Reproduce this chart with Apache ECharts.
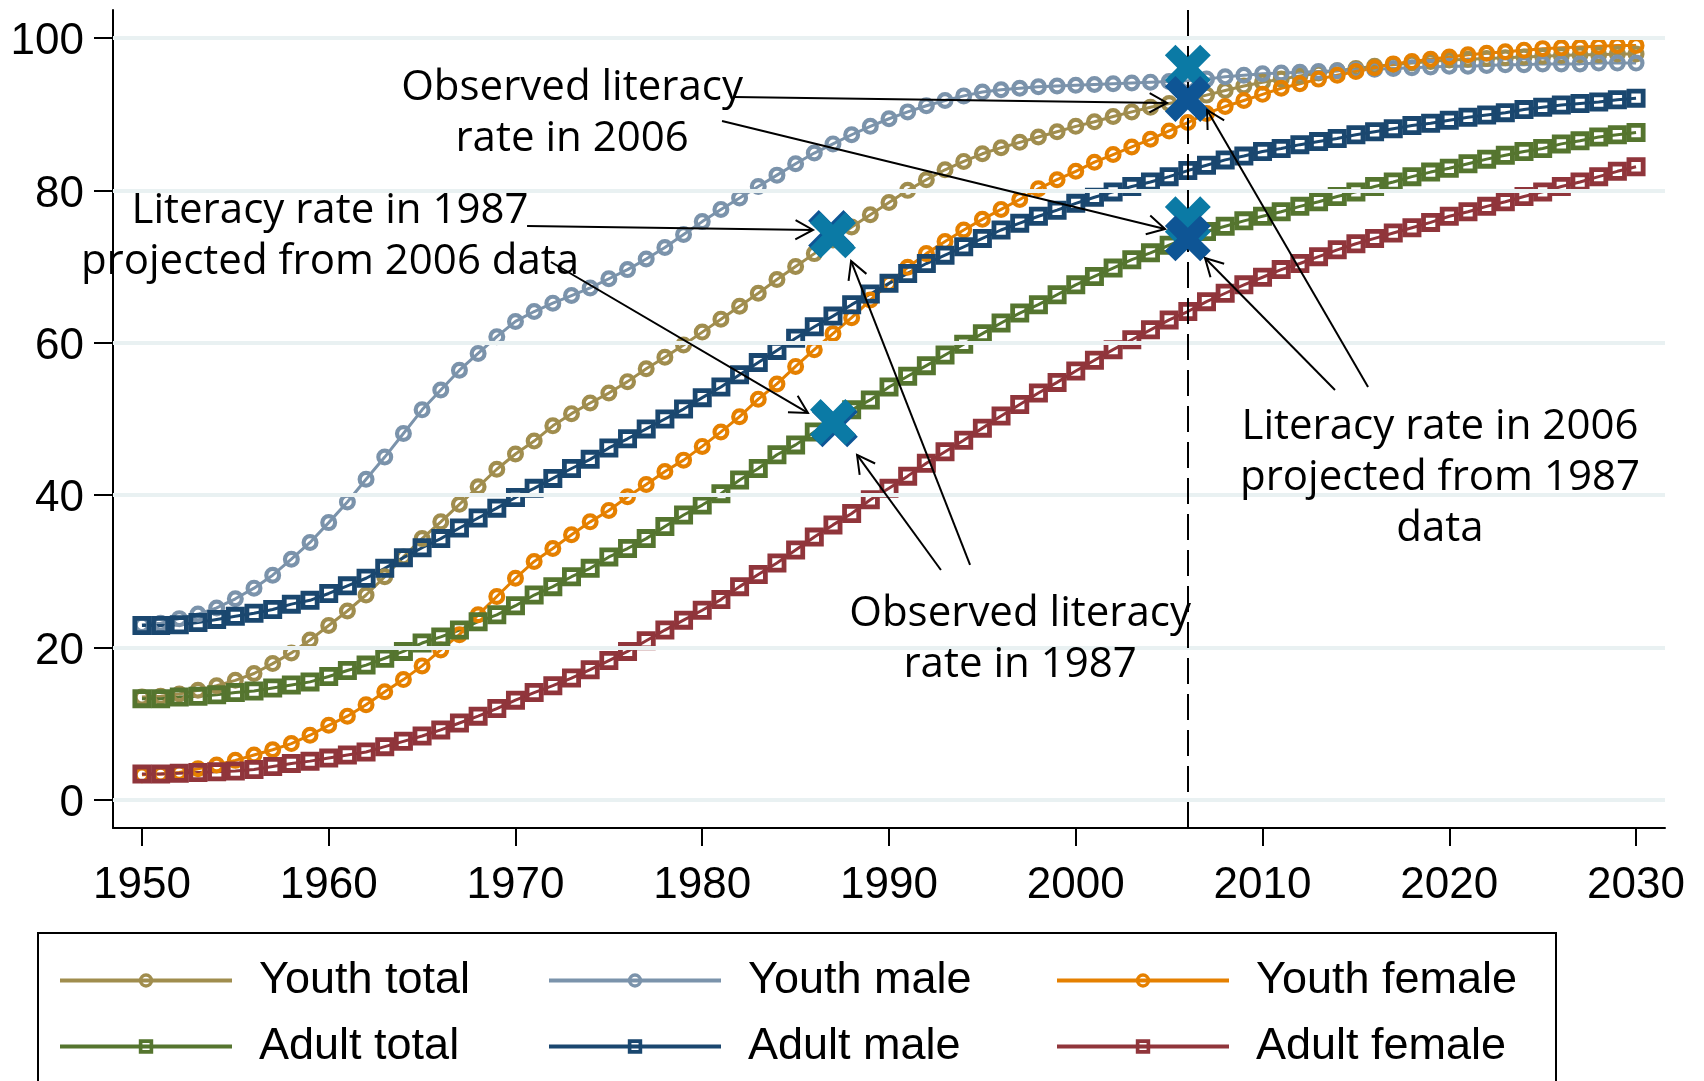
<!DOCTYPE html>
<html>
<head>
<meta charset="utf-8">
<script src="https://cdn.jsdelivr.net/npm/echarts@6/dist/echarts.min.js"></script>
<style>
  html,body{margin:0;padding:0;background:#fff;}
  #main{width:1704px;height:1081px;}
</style>
</head>
<body>
<div id="main"></div>
<script>
  // years on the x axis
  var years=[1950,1951,1952,1953,1954,1955,1956,1957,1958,1959,
    1960,1961,1962,1963,1964,1965,1966,1967,1968,1969,
    1970,1971,1972,1973,1974,1975,1976,1977,1978,1979,
    1980,1981,1982,1983,1984,1985,1986,1987,1988,1989,
    1990,1991,1992,1993,1994,1995,1996,1997,1998,1999,
    2000,2001,2002,2003,2004,2005,2006,2007,2008,2009,
    2010,2011,2012,2013,2014,2015,2016,2017,2018,2019,
    2020,2021,2022,2023,2024,2025,2026,2027,2028,2029,2030];

  var youthTotal=[13.5,13.6,13.9,14.4,15.0,15.7,16.6,17.9,19.3,21.0,
    22.9,24.8,26.9,29.3,31.9,34.3,36.5,38.8,41.1,43.4,
    45.4,47.1,49.1,50.7,52.1,53.4,54.9,56.6,58.1,59.7,
    61.4,63.1,64.8,66.5,68.3,70.0,71.7,73.5,75.2,76.8,
    78.4,80.0,81.4,82.7,83.8,84.8,85.6,86.3,87.0,87.7,
    88.4,89.0,89.7,90.3,90.9,91.4,91.9,92.5,93.1,93.7,
    94.2,94.6,95.0,95.4,95.7,96.0,96.3,96.5,96.7,96.9,
    97.1,97.2,97.3,97.4,97.5,97.6,97.7,97.8,97.8,97.9,97.9];

  var youthMale=[23.0,23.2,23.8,24.4,25.2,26.4,27.8,29.5,31.6,33.8,
    36.4,39.1,42.1,45.0,48.1,51.2,53.8,56.4,58.6,60.8,
    62.8,64.1,65.2,66.2,67.2,68.4,69.6,71.0,72.5,74.2,
    75.9,77.5,79.0,80.5,82.0,83.5,84.9,86.1,87.3,88.4,
    89.4,90.3,91.1,91.8,92.4,92.9,93.2,93.4,93.6,93.7,
    93.8,93.9,94.0,94.1,94.2,94.3,94.4,94.6,94.9,95.1,
    95.3,95.4,95.5,95.6,95.7,95.8,95.9,96.0,96.1,96.2,
    96.3,96.3,96.4,96.5,96.5,96.6,96.6,96.6,96.7,96.7,96.7];

  var youthFemale=[3.3,3.4,3.6,4.1,4.6,5.2,5.9,6.6,7.4,8.5,
    9.8,11.0,12.5,14.2,15.8,17.6,19.7,21.7,24.3,26.7,
    29.1,31.3,33.0,34.8,36.5,38.0,39.8,41.4,43.1,44.6,
    46.4,48.3,50.3,52.6,54.6,56.9,59.1,61.2,63.3,65.6,
    67.8,69.9,71.7,73.3,74.8,76.2,77.5,78.8,80.2,81.4,
    82.5,83.7,84.7,85.7,86.7,87.8,88.9,90.1,91.0,91.8,
    92.6,93.4,94.0,94.6,95.1,95.6,96.1,96.6,96.9,97.2,
    97.5,97.8,98.0,98.2,98.4,98.6,98.7,98.8,98.9,99.0,99.0];

  var adultTotal=[13.3,13.3,13.5,13.6,13.8,14.1,14.3,14.7,15.1,15.5,
    16.2,17.0,17.7,18.6,19.5,20.6,21.4,22.3,23.4,24.3,
    25.5,26.9,28.0,29.3,30.4,31.9,33.0,34.3,35.9,37.4,
    38.7,40.2,42.0,43.5,45.3,46.6,48.3,49.6,51.2,52.5,
    54.2,55.6,57.0,58.4,59.8,61.2,62.6,63.9,65.0,66.3,
    67.6,68.7,69.8,70.9,71.8,72.8,73.8,74.6,75.3,76.0,
    76.6,77.2,77.9,78.5,79.2,79.8,80.5,81.1,81.8,82.4,
    82.9,83.5,84.1,84.6,85.1,85.5,86.1,86.5,87.0,87.3,87.6];

  var adultMale=[22.9,22.9,23.0,23.3,23.7,24.1,24.5,25.0,25.7,26.2,
    27.1,28.1,29.1,30.4,31.8,33.1,34.3,35.7,37.0,38.3,
    39.7,40.9,42.2,43.5,44.7,46.2,47.4,48.7,50.0,51.3,
    52.8,54.2,55.8,57.4,59.0,60.6,62.1,63.5,65.0,66.4,
    67.8,69.1,70.4,71.5,72.6,73.7,74.8,75.7,76.6,77.4,
    78.3,79.1,79.8,80.5,81.1,81.8,82.6,83.3,84.0,84.5,
    85.1,85.5,86.0,86.4,86.8,87.3,87.7,88.1,88.5,88.8,
    89.2,89.6,89.9,90.2,90.6,90.9,91.2,91.4,91.6,91.9,92.1];

  var adultFemale=[3.4,3.4,3.5,3.6,3.7,3.8,4.0,4.4,4.8,5.1,
    5.5,5.9,6.3,7.0,7.7,8.4,9.2,10.1,11.0,12.0,
    13.1,14.1,15.0,16.0,17.1,18.3,19.5,20.9,22.3,23.6,
    24.9,26.3,28.0,29.6,31.1,32.8,34.5,36.1,37.6,39.4,
    40.9,42.5,44.2,45.7,47.2,48.8,50.4,51.9,53.4,54.8,
    56.3,57.7,59.1,60.4,61.7,63.0,64.1,65.4,66.5,67.6,
    68.6,69.6,70.4,71.3,72.2,73.0,73.7,74.4,75.1,75.8,
    76.6,77.2,77.9,78.5,79.2,79.8,80.5,81.1,81.8,82.5,83.1];

  // big X markers: light ones and dark ones
  var xLight=[[1987,74.1],[1987,49.6],[2006,96.1],[2006,76.2]];
  var xDark1987=[[1986.9,74.4],[1987.1,49.3]];
  var xDark2006=[[2006,92.0],[2006,73.7]];

  var xTicks=[1950,1960,1970,1980,1990,2000,2010,2020,2030];
  var yTicks=[0,20,40,60,80,100];
  var cutYear=2006;

  // annotations (data coords): text anchor = centre x, first baseline
  var notes=[
    {at:[1973.03,91.99],lines:["Observed literacy","rate in 2006"]},
    {at:[1960.07,75.85],lines:["Literacy rate in 1987","projected from 2006 data"]},
    {at:[1997.02,22.97],lines:["Observed literacy","rate in 1987"]},
    {at:[2019.50,47.51],lines:["Literacy rate in 2006","projected from 1987","data"]}
  ];
  // arrows: [fromX, fromY, toX, toY]
  var arrows=[
    [1981.70,92.26,2004.89,91.47],
    [1981.06,89.11,2004.78,74.93],
    [1970.62,75.33,1985.93,74.80],
    [1971.90,70.60,1985.66,50.79],
    [1992.78,30.18,1988.29,45.28],
    [1994.34,30.84,1987.97,70.73],
    [2013.88,53.81,2006.92,71.13],
    [2015.65,54.20,2007.03,90.55]
  ];

  var xPath='path://M3.5,0L6.5,0L6.5,3.5L10,3.5L10,6.5L6.5,6.5L6.5,10L3.5,10L3.5,6.5L0,6.5L0,3.5L3.5,3.5Z';
  // hollow markers as filled rings so the connecting line shows through
  var ringPath='path://M0,8.5A8.5,8.5,0,1,0,17,8.5A8.5,8.5,0,1,0,0,8.5ZM4.2,8.5A4.3,4.3,0,1,1,12.8,8.5A4.3,4.3,0,1,1,4.2,8.5Z';
  var boxPath='path://M0,0L19,0L19,19L0,19ZM4.8,4.8L4.8,14.2L14.2,14.2L14.2,4.8Z';
  var tickFont='Liberation Sans';

  var pairs=function(arr){
    return years.map(function(y,i){ return [y,arr[i]]; });
  };

  var lineSeries=function(name,arr,color,symbol,size){
    return {
      name:name, type:'line', data:pairs(arr), z:3,
      symbol:symbol, symbolSize:size, showAllSymbol:true,
      lineStyle:{color:color,width:3},
      itemStyle:{color:color,borderWidth:0,opacity:1},
      emphasis:{disabled:true}
    };
  };

  var xSeries=function(data,color,z){
    return {
      type:'scatter', data:data, z:z,
      symbol:xPath, symbolSize:50, symbolRotate:45,
      itemStyle:{color:color,opacity:1},
      emphasis:{disabled:true}
    };
  };

  var legendCols=[
    {left:58, data:['Youth total','Adult total']},
    {left:547, data:['Youth male','Adult male']},
    {left:1055, data:['Youth female','Adult female']}
  ];

  var plainYear=function(v){ return String(v); };

  var chart=echarts.init(document.getElementById('main'));
  chart.setOption({
    animation:false,
    backgroundColor:'#fff',
    grid:{left:113,right:39,top:10,bottom:253},
    xAxis:{
      type:'value', min:1948.45, max:2031.55,
      axisLine:{show:true,onZero:false,lineStyle:{color:'#000',width:2}},
      axisTick:{show:true,length:18,lineStyle:{color:'#000',width:2},customValues:xTicks},
      axisLabel:{customValues:xTicks,formatter:plainYear,fontSize:44,fontFamily:tickFont,color:'#000',margin:36},
      splitLine:{show:false}
    },
    yAxis:{
      type:'value', min:-3.675, max:103.67,
      axisLine:{show:true,onZero:false,lineStyle:{color:'#000',width:2}},
      axisTick:{show:true,length:19,lineStyle:{color:'#000',width:2},customValues:yTicks},
      axisLabel:{customValues:yTicks,formatter:plainYear,fontSize:44,fontFamily:tickFont,color:'#000',margin:29,verticalAlign:'top',lineHeight:8},
      splitLine:{show:false}
    },
    legend:legendCols.map(function(c){
      return {
        orient:'vertical', left:c.left, top:958, padding:0,
        data:c.data, itemWidth:172, itemHeight:18, itemGap:21,
        lineStyle:{width:4},
        textStyle:{fontSize:45,fontFamily:tickFont,color:'#000',padding:[0,0,0,22]},
        selectedMode:false
      };
    }),
    series:[
      {
        type:'line', data:[], z:1, silent:true,
        markLine:{
          silent:true, symbol:['none','none'], label:{show:false},
          data:yTicks.map(function(v){
            return {yAxis:v,lineStyle:{color:'#e9f1f2',width:4,type:'solid'}};
          }).concat([{xAxis:cutYear,lineStyle:{color:'#000',width:2,type:[26,10]}}])
        }
      },
      lineSeries('Youth total',youthTotal,'#a08d4e',ringPath,17),
      lineSeries('Youth male',youthMale,'#7b93ab',ringPath,17),
      lineSeries('Youth female',youthFemale,'#e58000',ringPath,17),
      lineSeries('Adult total',adultTotal,'#55752f',boxPath,19),
      lineSeries('Adult male',adultMale,'#1a476f',boxPath,19),
      lineSeries('Adult female',adultFemale,'#90353b',boxPath,19),
      xSeries(xDark1987,'#0e5595',4),
      xSeries(xLight,'#0b7aa5',5),
      xSeries(xDark2006,'#0e5595',6)
    ]
  });

  // annotations and arrows placed through the axes
  var toPx=function(p){ return chart.convertToPixel({gridIndex:0},p); };
  var graphics=[];
  graphics.push({
    type:'rect', z:20,
    shape:{x:38,y:933,width:1518,height:200},
    style:{fill:null,stroke:'#000',lineWidth:2}
  });
  notes.forEach(function(n){
    var p=toPx(n.at);
    n.lines.forEach(function(t,i){
      graphics.push({
        type:'text', z:20, x:p[0], y:p[1]-10.5+i*51,
        style:{text:t,fontSize:42,fontFamily:'Open Sans',fill:'#000',align:'center',verticalAlign:'middle'}
      });
    });
  });
  arrows.forEach(function(a){
    var p0=toPx([a[0],a[1]]), p1=toPx([a[2],a[3]]);
    var ang=Math.atan2(p1[1]-p0[1],p1[0]-p0[0]);
    var len=20, spread=0.5;
    var h1=[p1[0]-len*Math.cos(ang-spread),p1[1]-len*Math.sin(ang-spread)];
    var h2=[p1[0]-len*Math.cos(ang+spread),p1[1]-len*Math.sin(ang+spread)];
    graphics.push({
      type:'line', z:20,
      shape:{x1:p0[0],y1:p0[1],x2:p1[0],y2:p1[1]},
      style:{stroke:'#000',lineWidth:2}
    });
    graphics.push({
      type:'polyline', z:20,
      shape:{points:[h1,p1,h2]},
      style:{stroke:'#000',lineWidth:2,fill:null}
    });
  });
  chart.setOption({graphic:graphics});
</script>
</body>
</html>
